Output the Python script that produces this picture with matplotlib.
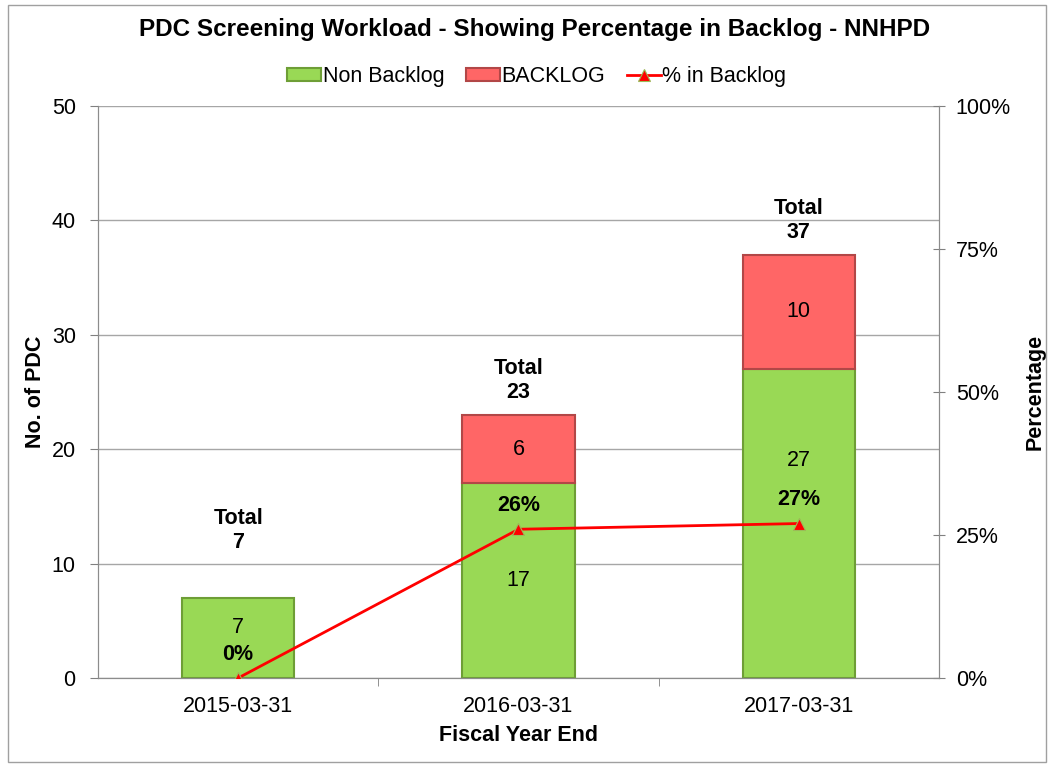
import matplotlib.pyplot as plt
from matplotlib.patches import Patch
import numpy as np

plt.rcParams['font.family'] = ['Liberation Sans', 'DejaVu Sans']

years = ['2015-03-31', '2016-03-31', '2017-03-31']
non_backlog = [7, 17, 27]
backlog = [0, 6, 10]
pct_backlog = [0.0, 0.26, 0.27]
totals = [7, 23, 37]

# label heights (data units) as Excel placed them
total_pos = [12.9, 26.0, 40.0]
nb_pos = [4.4, 8.5, 19.0]

x = np.arange(len(years))
w = 0.4

fig = plt.figure(figsize=(10.5, 7.67), dpi=100)
ax = fig.add_axes([0.0933, 0.116, 0.8010, 0.746])

green = '#99D955'
red = '#FF6666'
ax.bar(x, non_backlog, w, color=green, edgecolor='#6E9E36', linewidth=1.5, zorder=2)
bl = ax.bar(x, backlog, w, bottom=non_backlog, color=red, edgecolor='#B24747', linewidth=1.5, zorder=2)
for b, v in zip(bl, backlog):
    if v == 0:
        b.set_visible(False)

ax.set_xlim(-0.5, 2.5)
ax.set_ylim(0, 50)
ax.set_yticks(range(0, 51, 10))
ax.set_xticks(x)
ax.set_xticklabels(years)
ax.set_xticks([0.5, 1.5], minor=True)
ax.tick_params(axis='x', which='major', length=0, labelsize=15.5, pad=13)
ax.tick_params(axis='x', which='minor', length=6, color='#808080')
ax.tick_params(axis='y', labelsize=15.5, length=6, color='#808080', pad=10)
ax.yaxis.grid(True, color='#A6A6A6', linewidth=1, zorder=0)
ax.set_axisbelow(True)
for s in ['left', 'right', 'bottom', 'top']:
    ax.spines[s].set_color('#8C8C8C')
ax.spines['top'].set_visible(False)

ax.set_xlabel('Fiscal Year End', fontsize=15.5, fontweight='bold', labelpad=6)
ax.set_ylabel('No. of PDC', fontsize=15.5, fontweight='bold', labelpad=4)

for i in range(len(years)):
    ax.text(x[i], total_pos[i], 'Total\n' + str(totals[i]), ha='center', va='center',
            fontsize=15.5, fontweight='bold', linespacing=1.2, zorder=5)
    ax.text(x[i], nb_pos[i], str(non_backlog[i]), ha='center', va='center', fontsize=15.5, zorder=5)
    if backlog[i] > 0:
        ax.text(x[i], non_backlog[i] + backlog[i] / 2, str(backlog[i]), ha='center', va='center',
                fontsize=15.5, zorder=5)

ax2 = ax.twinx()
ax2.set_ylim(0, 1)
ax2.set_yticks([0, 0.25, 0.5, 0.75, 1.0])
ax2.set_yticklabels(['0%', '25%', '50%', '75%', '100%'])
ax2.tick_params(axis='y', labelsize=15.5, length=8, direction='inout', color='#808080', pad=8)
for s in ax2.spines.values():
    s.set_color('#8C8C8C')
ax2.spines['top'].set_visible(False)
line, = ax2.plot(x, pct_backlog, color='red', linewidth=2, marker='^', markersize=8,
                 markerfacecolor='red', markeredgecolor='#9BBB59', markeredgewidth=0.8, zorder=4)
for i in range(len(years)):
    ax2.annotate('{:.0%}'.format(pct_backlog[i]), (x[i], pct_backlog[i]), xytext=(0, 17),
                 textcoords='offset points', ha='center', va='center', fontsize=15.5, fontweight='bold')
ax2.set_ylabel('Percentage', fontsize=15.5, fontweight='bold', labelpad=10)

handles = [Patch(facecolor=green, edgecolor='#6E9E36', linewidth=1.5),
           Patch(facecolor=red, edgecolor='#B24747', linewidth=1.5),
           line]
fig.legend(handles, ['Non Backlog', 'BACKLOG', '% in Backlog'], loc='center',
           bbox_to_anchor=(0.511, 0.9), ncol=3, frameon=False,
           fontsize=15.5, handlelength=1.6, handleheight=0.55, handletextpad=0.05, columnspacing=1.0)

fig.suptitle('PDC Screening Workload - Showing Percentage in Backlog - NNHPD', fontsize=17.5,
             fontweight='bold', x=0.509, y=0.961, va='center')

border = plt.Rectangle((0.008, 0.006), 0.988, 0.988, transform=fig.transFigure, fill=False,
                       edgecolor='#A0A0A0', linewidth=1)
fig.patches.append(border)

fig.savefig('out.png', dpi=100)
